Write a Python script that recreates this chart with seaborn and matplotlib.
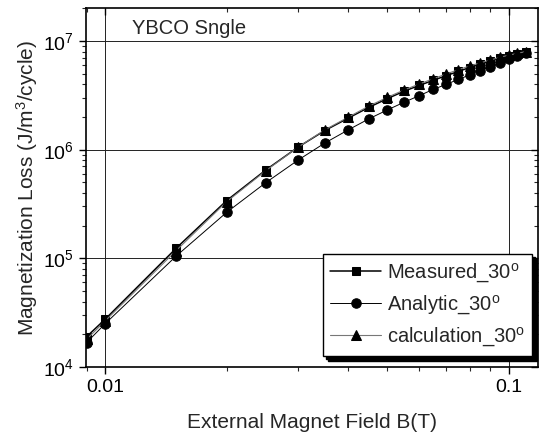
import matplotlib
matplotlib.use('Agg')
import matplotlib.pyplot as plt
from matplotlib.ticker import LogLocator, NullFormatter, FixedLocator, FixedFormatter
from matplotlib.patches import Rectangle
import seaborn as sns
import pandas as pd
import numpy as np

# data
field_T = [0.009, 0.01, 0.015, 0.02, 0.025, 0.03, 0.035, 0.04, 0.045, 0.05,
           0.055, 0.06, 0.065, 0.07, 0.075, 0.08, 0.085, 0.09, 0.095, 0.1,
           0.105, 0.11]
measured = [1.9e4, 2.75e4, 1.24e5, 3.4e5, 6.5e5, 1.05e6, 1.5e6, 1.95e6, 2.45e6, 2.95e6,
            3.45e6, 3.9e6, 4.35e6, 4.8e6, 5.25e6, 5.7e6, 6.1e6, 6.5e6, 6.9e6, 7.25e6,
            7.6e6, 7.9e6]
analytic = [1.68e4, 2.5e4, 1.05e5, 2.65e5, 4.97e5, 7.98e5, 1.15e6, 1.52e6, 1.92e6, 2.32e6,
            2.73e6, 3.14e6, 3.59e6, 3.99e6, 4.44e6, 4.86e6, 5.3e6, 5.8e6, 6.24e6, 6.8e6,
            7.28e6, 7.7e6]
calculation = [1.8e4, 2.65e4, 1.18e5, 3.32e5, 6.4e5, 1.05e6, 1.52e6, 1.99e6, 2.52e6, 3.03e6,
               3.54e6, 4.02e6, 4.5e6, 4.97e6, 5.45e6, 5.89e6, 6.3e6, 6.68e6, 7.08e6, 7.4e6,
               7.7e6, 7.98e6]

series_names = ['Measured_30$^\\mathregular{o}$', 'Analytic_30$^\\mathregular{o}$',
                'calculation_30$^\\mathregular{o}$']

sns.set_style('ticks')
plt.rcParams['font.family'] = ['Liberation Sans', 'DejaVu Sans']
plt.rcParams['mathtext.default'] = 'regular'

df = pd.DataFrame({'B': field_T * 3,
                   'loss': measured + analytic + calculation,
                   'series': [series_names[0]] * len(field_T) + [series_names[1]] * len(field_T)
                   + [series_names[2]] * len(field_T)})

fig = plt.figure(figsize=(5.39, 4.38), dpi=100)
ax = fig.add_axes([0.1596, 0.162, 0.8384, 0.8197])

styles = [
    dict(color='black', lw=1.1, marker='s', ms=6.3),
    dict(color='black', lw=0.7, marker='o', ms=6.8),
    dict(color='#777777', lw=0.8, marker='^', ms=7.2),
]
for name, st in zip(series_names, styles):
    sub = df[df['series'] == name]
    sns.lineplot(data=sub, x='B', y='loss', ax=ax, label=name, color=st['color'],
                 linewidth=st['lw'], marker=st['marker'], markersize=st['ms'],
                 markerfacecolor='black', markeredgecolor='black', estimator=None,
                 sort=False)

ax.set_xscale('log')
ax.set_yscale('log')
ax.set_xlim(0.00897, 0.118)
ax.set_ylim(1e4, 2.01e7)

ax.xaxis.set_major_locator(FixedLocator([0.01, 0.1]))
ax.xaxis.set_major_formatter(FixedFormatter(['0.01', '0.1']))
ax.xaxis.set_minor_locator(LogLocator(base=10, subs=np.arange(2, 10)))
ax.xaxis.set_minor_formatter(NullFormatter())
ax.yaxis.set_major_locator(LogLocator(base=10, numticks=10))
ax.yaxis.set_minor_locator(LogLocator(base=10, subs=np.arange(2, 10), numticks=10))
ax.yaxis.set_minor_formatter(NullFormatter())

ax.grid(True, which='major', color='#222222', linewidth=0.7)
for s in ax.spines.values():
    s.set_visible(True)
    s.set_linewidth(1.2)
    s.set_color('black')

ax.tick_params(axis='both', which='major', labelsize=14, direction='out', length=5,
               width=1, colors='black')
ax.tick_params(axis='both', which='minor', direction='out', length=3, width=0.8)
ax.tick_params(top=True, right=True, which='both')

# top and right ticks point inward like the original
for t in ax.xaxis.get_major_ticks() + ax.xaxis.get_minor_ticks():
    t.tick2line.set_marker(matplotlib.lines.TICKDOWN)
for t in ax.yaxis.get_major_ticks() + ax.yaxis.get_minor_ticks():
    t.tick2line.set_marker(matplotlib.lines.TICKLEFT)

ax.set_xlabel('External Magnet Field B(T)', fontsize=15, labelpad=12)
ax.set_ylabel('Magnetization Loss (J/m$^3$/cycle)', fontsize=15, labelpad=2)

ax.text(0.101, 0.928, 'YBCO Sngle', transform=ax.transAxes, fontsize=14.5,
        ha='left', va='baseline')

leg = ax.legend(loc='lower right', bbox_to_anchor=(0.987, 0.031), borderaxespad=0,
                fontsize=14.5, frameon=True, fancybox=False, edgecolor='black',
                framealpha=1, handlelength=2.5, handletextpad=0.3, labelspacing=0.42,
                borderpad=0.35,
                shadow={'facecolor': 'black', 'edgecolor': 'black', 'alpha': 1})
leg.get_frame().set_linewidth(1.0)

# wider solid drop shadow behind the legend box
fig.canvas.draw()
bb = leg.get_window_extent().transformed(ax.transAxes.inverted())
dx = 5 / ax.bbox.width
dy = 5 / ax.bbox.height
ax.add_patch(Rectangle((bb.x0 + dx, bb.y0 - dy), bb.width, bb.height,
                       transform=ax.transAxes, facecolor='black', edgecolor='black',
                       zorder=leg.get_zorder() - 0.1, clip_on=False))

fig.savefig('out.png', dpi=100)
